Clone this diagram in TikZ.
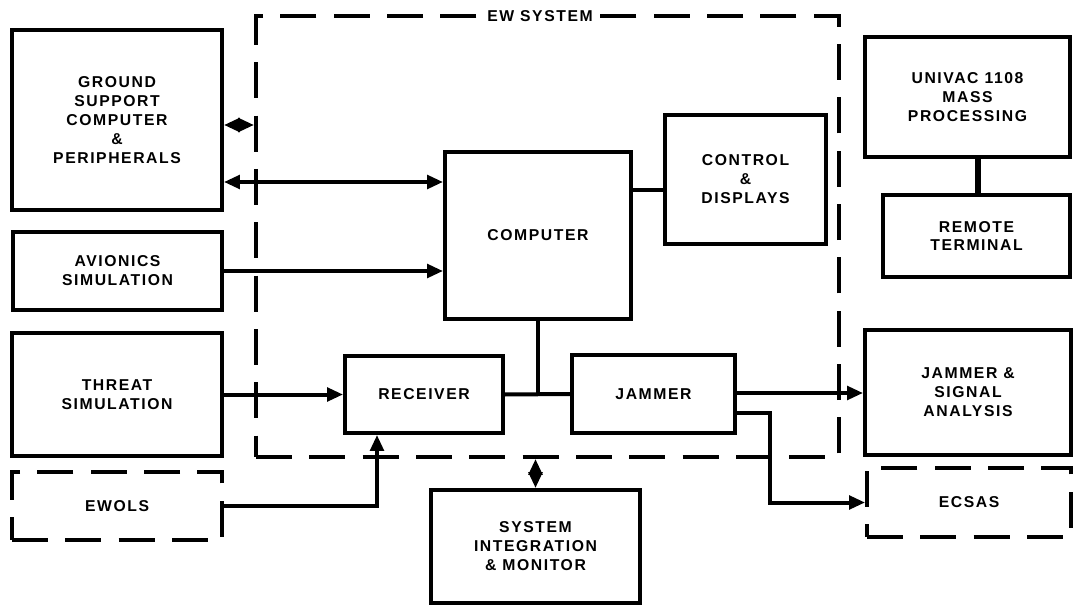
\documentclass[tikz,border=0pt]{standalone}
\usepackage{fontspec}
\setmainfont{Liberation Sans}[LetterSpace=10]
\usetikzlibrary{arrows.meta,calc}
\begin{document}
\begin{tikzpicture}[x=0.75pt,y=-0.75pt,
  box/.style={draw, line width=2.8pt, inner sep=0pt, align=center,
    font=\bfseries\fontsize{11.8}{14.2}\selectfont},
  sz/.style 2 args={minimum width=#1*0.75pt, minimum height=#2*0.75pt},
  dbox/.style={box, dash pattern=on 27pt off 13pt},
  conn/.style={line width=3pt},
  arr/.style={conn, -{Triangle[length=12pt,width=10pt]}},
  darr/.style={conn, {Triangle[length=12pt,width=10pt]}-{Triangle[length=12pt,width=10pt]}},
  lbl/.style={fill=white, inner sep=3pt, font=\bfseries\fontsize{11.8}{14.2}\selectfont}
]
\useasboundingbox (0,0) rectangle (1074,606);

% helper coordinates
\coordinate (r125) at (0,125);
\coordinate (r182) at (0,182);
\coordinate (r190) at (0,190);
\coordinate (r393) at (0,393);
\coordinate (r413) at (0,413);
\coordinate (c377) at (377,0);
\coordinate (c770) at (770,0);
\coordinate (c978) at (978,0);

% EW system boundary
\node[dbox, sz={583}{441}] (ew) at (547.5,236.5) {};
\node[lbl] (ewl) at (540,16) {EW SYSTEM};

% left column
\node[box, sz={210}{180}] (gs) at (117,120) {GROUND\\SUPPORT\\COMPUTER\\\&\\PERIPHERALS};
\node[box, sz={209}{78}] (av) at (117.5,271) {AVIONICS\\SIMULATION};
\node[box, sz={210}{123}] (th) at (117,394.5) {THREAT\\SIMULATION};
\node[dbox, sz={210}{68}] (ewols) at (117,506) {EWOLS};

% inside EW system
\node[box, sz={186}{167}] (comp) at (538,235.5) {COMPUTER};
\node[box, sz={161}{129}] (ctrl) at (745.5,179.5) {CONTROL\\\&\\DISPLAYS};
\node[box, sz={158}{77}] (rec) at (424,394.5) {RECEIVER};
\node[box, sz={163}{78}] (jam) at (653.5,394) {JAMMER};

% bottom
\node[box, sz={209}{113}] (sim) at (535.5,546.5) {SYSTEM\\INTEGRATION\\\& MONITOR};

% right column
\node[box, sz={205}{120}] (univ) at (967.5,97) {UNIVAC 1108\\MASS\\PROCESSING};
\node[box, sz={187}{82}] (rem) at (976.5,236) {REMOTE\\TERMINAL};
\node[box, sz={206}{125}] (jsa) at (968,392.5) {JAMMER \&\\SIGNAL\\ANALYSIS};
\node[dbox, sz={204}{69}] (ecsas) at (969,502.5) {ECSAS};

% connectors
\draw[darr] (gs.east |- r125) -- (ew.west |- r125);
\draw[darr] (gs.east |- r182) -- (comp.west |- r182);
\draw[arr] (av.east) -- (comp.west |- av.east);
\draw[arr] (th.east) -- (rec.west |- th.east);
\draw[arr] (ewols.east) -- (c377 |- ewols.east) -- (c377 |- rec.south);
\draw[conn] (comp.south) -- (comp.south |- rec.east);
\draw[conn] (rec.east) -- (jam.west);
\draw[conn] (comp.east |- r190) -- (ctrl.west |- r190);
\draw[arr] (jam.east |- r393) -- (jsa.west |- r393);
\draw[arr] (jam.east |- r413) -- (c770 |- r413) -- (c770 |- ecsas.west) -- (ecsas.west);
\draw[darr] (sim.north) -- (sim.north |- ew.south);
\draw[line width=4pt] (c978 |- univ.south) -- (c978 |- rem.north);
\end{tikzpicture}
\end{document}
